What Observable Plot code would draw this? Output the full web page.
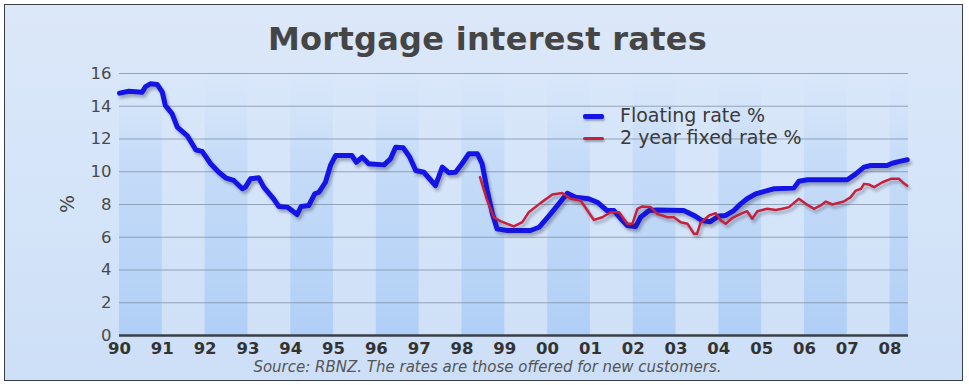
<!DOCTYPE html>
<html>
<head>
<meta charset="utf-8">
<script src="https://cdn.jsdelivr.net/npm/d3@7"></script>
<script src="https://cdn.jsdelivr.net/npm/@observablehq/plot@0.6"></script>
<style>
  html, body { margin: 0; padding: 0; background: #ffffff; }
  #wrap {
    position: relative; width: 969px; height: 385px; overflow: hidden;
    font-family: "DejaVu Sans", Verdana, sans-serif;
  }
  #frame {
    position: absolute; left: 4px; top: 4px; width: 959px; height: 377px;
    border: 1.5px solid #3a3f47; box-sizing: border-box;
    background: linear-gradient(180deg, #dce8f9 0%, #d4e4f9 55%, #cddff7 100%);
  }
  #chart { position: absolute; left: 0; top: 0; }
  #title {
    position: absolute; left: 0; width: 975px; top: 20px; text-align: center;
    font-weight: bold; font-size: 32px; color: #454545; letter-spacing: 0.3px;
  }
  #caption {
    position: absolute; left: 0; width: 975px; top: 360px; text-align: center;
    font-style: italic; font-size: 15px; line-height: 15px; color: #555;
  }
  .leg { position: absolute; left: 583px; font-size: 19px; color: #3a3a3a; white-space: nowrap; }
  .leg span.sw { display: inline-block; width: 21px; vertical-align: middle; margin-right: 16px; border-radius: 2px; }
  #ylab {
    position: absolute; left: 58px; top: 193px; font-size: 19px; color: #444;
    transform: rotate(-90deg); transform-origin: center;
  }
</style>
</head>
<body>
<div id="wrap">
  <div id="frame"></div>
  <div id="chart"></div>
  <div id="title">Mortgage interest rates</div>
  <div id="ylab">%</div>
  <div class="leg" style="top:104px"><span class="sw" style="height:5px;background:#1414e6;box-shadow:1px 2px 2px rgba(0,0,0,0.3)"></span>Floating rate %</div>
  <div class="leg" style="top:126px"><span class="sw" style="height:3px;background:#c8203c;box-shadow:1px 2px 2px rgba(0,0,0,0.3)"></span>2 year fixed rate %</div>
  <div id="caption">Source: RBNZ. The rates are those offered for new customers.</div>
</div>
<script>
// ---- Data ----
const floatingYears = [1990.00,1990.22,1990.53,1990.61,1990.72,1990.88,1991.00,1991.07,1991.23,1991.35,1991.58,1991.78,1991.93,1992.13,1992.32,1992.48,1992.67,1992.87,1992.94,1993.06,1993.25,1993.37,1993.60,1993.72,1993.92,1994.15,1994.24,1994.42,1994.56,1994.66,1994.81,1994.93,1995.05,1995.43,1995.53,1995.67,1995.82,1996.18,1996.33,1996.45,1996.63,1996.78,1996.92,1997.11,1997.38,1997.54,1997.69,1997.85,1998.00,1998.16,1998.36,1998.47,1998.59,1998.71,1998.82,1999.06,1999.60,1999.80,2000.07,2000.26,2000.46,2000.65,2000.96,2001.16,2001.39,2001.55,2001.71,2001.86,2002.06,2002.17,2002.37,2002.56,2003.18,2003.42,2003.61,2003.80,2004.00,2004.16,2004.35,2004.51,2004.66,2004.86,2005.13,2005.29,2005.75,2005.87,2006.07,2007.00,2007.20,2007.39,2007.55,2007.93,2008.05,2008.25,2008.40];
const floatingRate = [14.80,14.92,14.86,15.20,15.37,15.33,14.86,14.05,13.54,12.72,12.21,11.34,11.24,10.49,9.97,9.63,9.47,8.96,9.06,9.57,9.63,9.06,8.35,7.88,7.84,7.39,7.88,7.94,8.65,8.75,9.36,10.40,10.99,10.99,10.58,10.89,10.49,10.42,10.79,11.50,11.46,10.89,10.08,9.97,9.16,10.28,9.94,9.97,10.49,11.10,11.10,10.49,8.85,7.43,6.51,6.41,6.41,6.61,7.43,8.04,8.69,8.45,8.35,8.14,7.63,7.63,7.13,6.72,6.66,7.22,7.63,7.67,7.63,7.33,7.02,6.95,7.30,7.33,7.63,8.04,8.35,8.65,8.85,8.96,9.00,9.42,9.51,9.51,9.87,10.28,10.38,10.38,10.52,10.65,10.73];

const fixedYears = [1998.42,1998.59,1998.75,1998.90,1999.21,1999.41,1999.56,1999.84,2000.11,2000.34,2000.54,2000.77,2000.93,2001.08,2001.28,2001.47,2001.67,2001.86,2001.98,2002.10,2002.21,2002.41,2002.56,2002.80,2002.95,2003.11,2003.27,2003.42,2003.49,2003.57,2003.77,2003.93,2004.05,2004.16,2004.32,2004.51,2004.66,2004.78,2004.90,2005.13,2005.33,2005.48,2005.64,2005.87,2006.03,2006.22,2006.38,2006.50,2006.65,2006.92,2007.08,2007.20,2007.32,2007.39,2007.51,2007.63,2007.82,2008.02,2008.21,2008.29,2008.40];
const fixedRate = [9.67,8.24,7.19,6.98,6.66,6.92,7.53,8.10,8.61,8.70,8.35,8.24,7.63,7.06,7.22,7.53,7.53,6.82,6.82,7.74,7.88,7.84,7.43,7.22,7.22,6.92,6.82,6.21,6.21,6.86,7.33,7.47,7.02,6.82,7.19,7.43,7.59,7.13,7.59,7.74,7.67,7.74,7.84,8.35,8.04,7.74,7.94,8.18,8.00,8.18,8.45,8.85,8.96,9.26,9.22,9.06,9.36,9.57,9.57,9.36,9.15];

const tickYears = d3.range(1990, 2009);
const tickLabels = ["90","91","92","93","94","95","96","97","98","99","00","01","02","03","04","05","06","07","08"];
const yTicks = [0, 2, 4, 6, 8, 10, 12, 14, 16];
const xEnd = 2008.43;

const floating = floatingYears.map((x, i) => ({x, y: floatingRate[i]}));
const fixed = fixedYears.map((x, i) => ({x, y: fixedRate[i]}));
const bands = tickYears.filter(y => y % 2 === 0).map(y => ({x1: y, x2: Math.min(y + 1, xEnd)}));

const chart = Plot.plot({
  width: 969,
  height: 385,
  marginLeft: 119,
  marginRight: 61,
  marginTop: 73,
  marginBottom: 50,
  style: { background: "transparent", fontFamily: "DejaVu Sans, sans-serif", overflow: "visible" },
  x: { domain: [1990, xEnd], axis: null },
  y: { domain: [0, 16], axis: null },
  marks: [
    Plot.rect(bands, { x1: "x1", x2: "x2", y1: 0, y2: 16, fill: "url(#bandGrad)" }),
    Plot.gridY(yTicks.filter(t => t > 0), { stroke: "#7f8ea3", strokeOpacity: 0.75, strokeWidth: 1 }),
    Plot.axisY(yTicks, { tickSize: 0, tickPadding: 8, fontSize: 16.5, fill: "#4a4a4a", label: null }),
    Plot.axisX(tickYears, { tickSize: 0, tickPadding: 7, fontSize: 16.5, fontWeight: "bold", fill: "#333", label: null,
      tickFormat: d => tickLabels[tickYears.indexOf(d)] }),
    Plot.ruleY([0], { stroke: "#3a3f47", strokeWidth: 2.5 }),
    Plot.line(floating, { x: "x", y: "y", stroke: "#1414e6", strokeWidth: 5, strokeLinejoin: "round", strokeLinecap: "round" }),
    Plot.line(fixed, { x: "x", y: "y", stroke: "#c8203c", strokeWidth: 2.5, strokeLinejoin: "round", strokeLinecap: "round" })
  ]
});

const ns = "http://www.w3.org/2000/svg";
const defs = document.createElementNS(ns, "defs");
defs.innerHTML = `<linearGradient id="bandGrad" x1="0" y1="0" x2="0" y2="1">
  <stop offset="0%" stop-color="#d6e6fa" stop-opacity="0.25"/>
  <stop offset="30%" stop-color="#c4dbf8" stop-opacity="0.85"/>
  <stop offset="100%" stop-color="#b0cff6" stop-opacity="1"/>
</linearGradient>`;
chart.insertBefore(defs, chart.firstChild);
chart.querySelectorAll('g[aria-label="line"]').forEach(g => {
  g.style.filter = "drop-shadow(2px 3px 1.5px rgba(40,40,60,0.35))";
});
document.getElementById("chart").appendChild(chart);
</script>
</body>
</html>
